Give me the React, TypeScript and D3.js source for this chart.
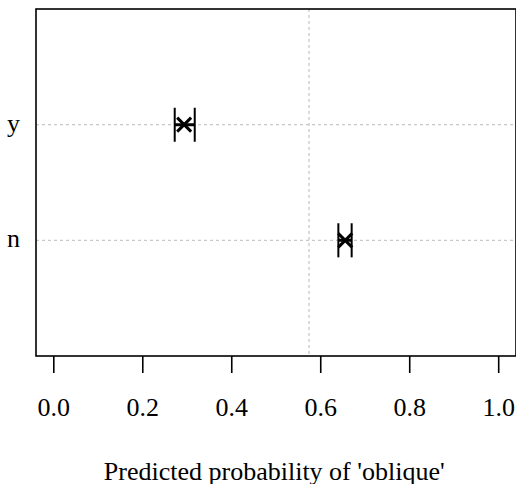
import React from 'react';
import * as d3 from 'd3';

// categories on the y axis, bottom to top
const categories = ['n', 'y'];
const estimates = [0.655, 0.293];
const lower = [0.6396, 0.2718];
const upper = [0.6695, 0.3168];
const xTicks = [0, 0.2, 0.4, 0.6, 0.8, 1.0];
const refLine = 0.5736;
const xTitle = "Predicted probability of 'oblique'";

const W = 516;
const H = 484;
const plot = { left: 36, top: 9, right: 516.5, bottom: 356 };
const textStyle: React.CSSProperties = {
  fontFamily: "'Liberation Serif', 'Times New Roman', serif",
  fontSize: '26px',
};

const App: React.FC = () => {
  const x = d3.scaleLinear().domain([-0.04, 1.04]).range([plot.left, plot.right]);
  const y = d3.scaleLinear().domain([0, categories.length + 1]).range([plot.bottom, plot.top]);

  const cross = 7;
  const capHalf = 17;

  return (
    <svg width={W} height={H} style={{ position: 'absolute', left: 0, top: 0 }}>
      <rect x={0} y={0} width={W} height={H} fill="#fff" />
      <defs>
        <clipPath id="plotClip">
          <rect x={plot.left} y={plot.top} width={plot.right - plot.left} height={plot.bottom - plot.top} />
        </clipPath>
      </defs>

      <g clipPath="url(#plotClip)">
        {categories.map((c, i) => (
          <line key={'g' + c} x1={plot.left} x2={plot.right} y1={y(i + 1)} y2={y(i + 1)}
            stroke="#c8c8c8" strokeWidth={1.3} strokeDasharray="3,3" />
        ))}
        <line x1={x(refLine)} x2={x(refLine)} y1={plot.top} y2={plot.bottom}
          stroke="#c8c8c8" strokeWidth={1.3} strokeDasharray="3,3" />

        {categories.map((c, i) => {
          const cy = y(i + 1);
          const cx = x(estimates[i]);
          return (
            <g key={'p' + c} stroke="#000" fill="none">
              <line x1={x(lower[i])} x2={x(upper[i])} y1={cy} y2={cy} strokeWidth={3} />
              <line x1={x(lower[i])} x2={x(lower[i])} y1={cy - capHalf} y2={cy + capHalf} strokeWidth={2} />
              <line x1={x(upper[i])} x2={x(upper[i])} y1={cy - capHalf} y2={cy + capHalf} strokeWidth={2} />
              <line x1={cx - cross} x2={cx + cross} y1={cy - cross} y2={cy + cross} strokeWidth={3} />
              <line x1={cx - cross} x2={cx + cross} y1={cy + cross} y2={cy - cross} strokeWidth={3} />
            </g>
          );
        })}
      </g>

      <rect x={plot.left} y={plot.top} width={W - plot.left} height={plot.bottom - plot.top}
        fill="none" stroke="#000" strokeWidth={1.6} />

      {xTicks.map(t => (
        <g key={'t' + t}>
          <line x1={x(t)} x2={x(t)} y1={plot.bottom} y2={plot.bottom + 17} stroke="#000" strokeWidth={1.6} />
          <text x={x(t)} y={416} textAnchor="middle" style={textStyle} fill="#000">
            {d3.format('.1f')(t)}
          </text>
        </g>
      ))}

      {categories.map((c, i) => (
        <text key={'l' + c} x={20} y={y(i + 1) + 7} textAnchor="end" style={textStyle} fill="#000">
          {c}
        </text>
      ))}

      <text x={(plot.left + plot.right) / 2 - 2} y={480} textAnchor="middle" style={textStyle} fill="#000">
        {xTitle}
      </text>
    </svg>
  );
};

export default App;
